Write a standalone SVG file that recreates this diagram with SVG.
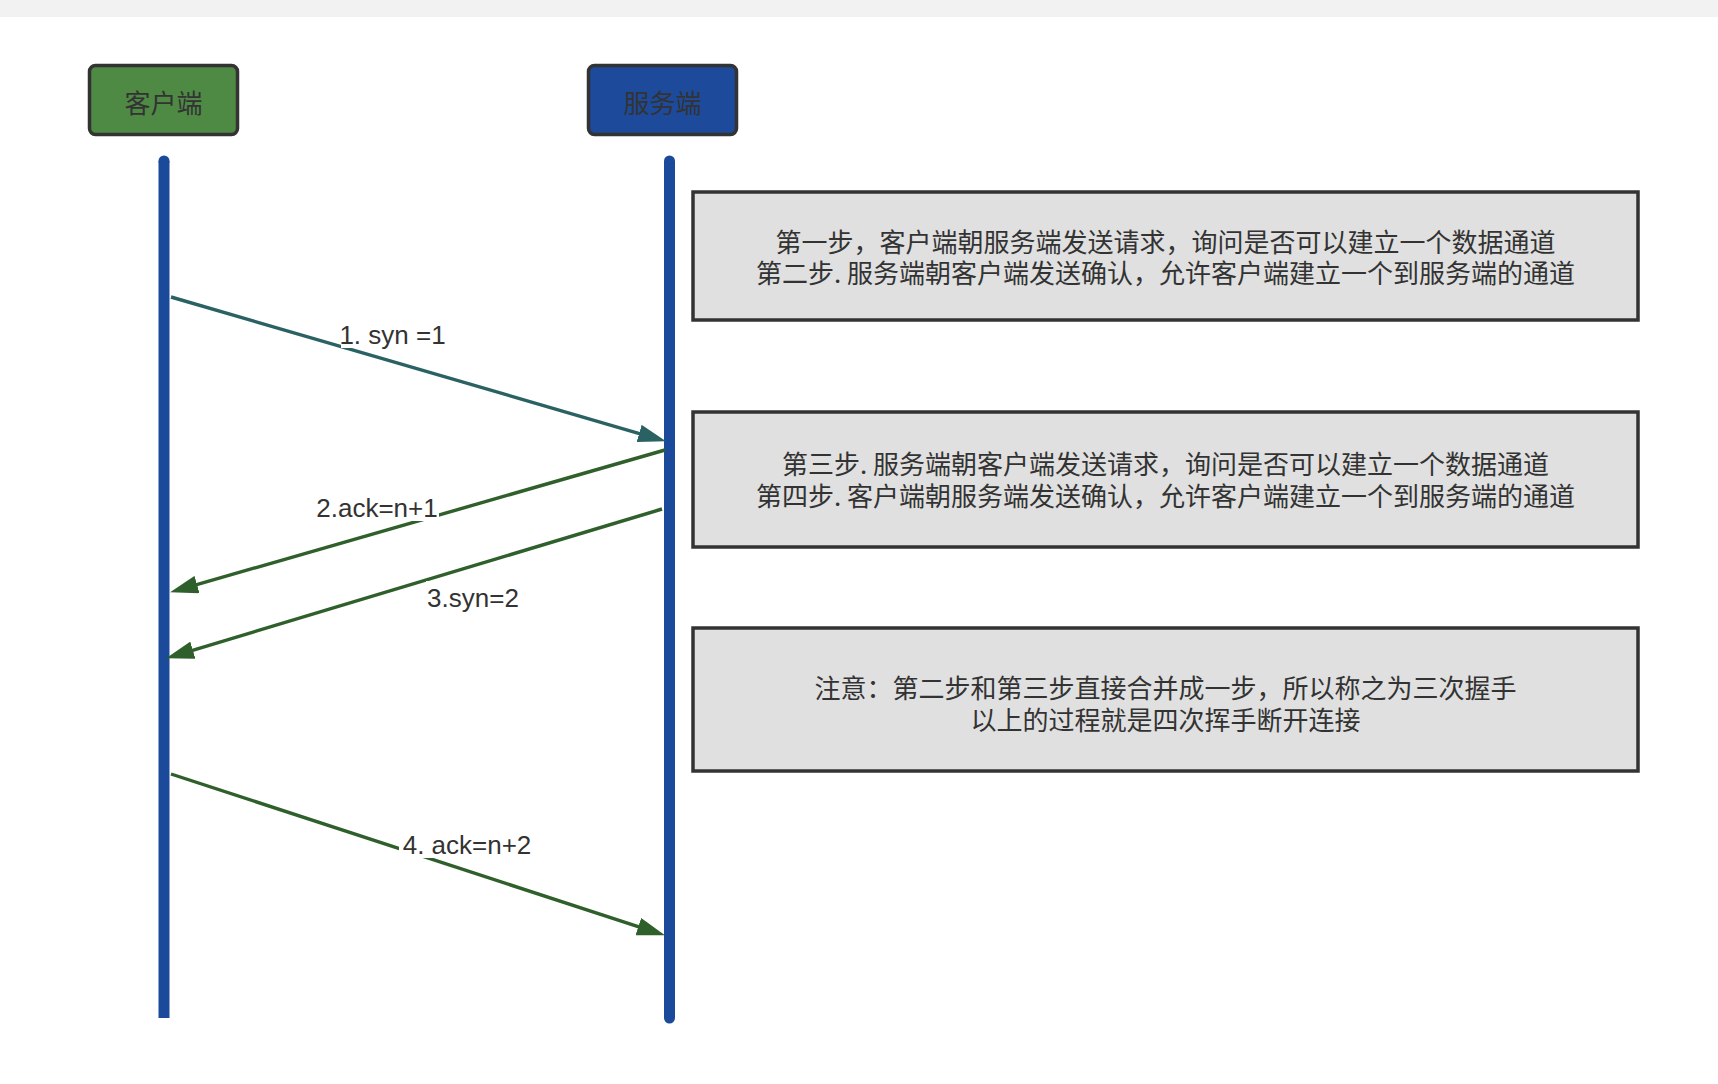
<svg xmlns="http://www.w3.org/2000/svg" width="1718" height="1084" viewBox="0 0 1718 1084">
<style>
.cjk{font-family:"Noto Sans CJK SC","Liberation Sans",sans-serif;font-size:26px;fill:#333;text-anchor:middle;dominant-baseline:central}
.lbl{font-family:"Liberation Sans","Noto Sans CJK SC",sans-serif;font-size:26px;fill:#333;text-anchor:middle}
.note{fill:#e0e0e0;stroke:#333;stroke-width:3.5}
.actor{stroke:#333;stroke-width:3.5}
.life{stroke:#1c4a9a;stroke-width:11;fill:none}
.c1{stroke:#2a6263;stroke-width:3.4;fill:none}
.c2{stroke:#2f5f2a;stroke-width:3.4;fill:none}
.bg{fill:#fff}
</style>
<defs>
<marker id="ah1" markerUnits="userSpaceOnUse" markerWidth="28" markerHeight="18" viewBox="0 0 28 18" refX="3" refY="9" orient="auto"><path d="M0,0 L28,9 L0,18 z" fill="#2a6263"/></marker>
<marker id="ah2" markerUnits="userSpaceOnUse" markerWidth="28" markerHeight="18" viewBox="0 0 28 18" refX="3" refY="9" orient="auto"><path d="M0,0 L28,9 L0,18 z" fill="#2f5f2a"/></marker>
</defs>
<rect x="0" y="0" width="1718" height="1084" fill="#fff"/>
<rect x="0" y="0" width="1718" height="17" fill="#f2f2f2"/>

<g id="client">
<rect class="actor" x="89.5" y="65.5" width="148" height="69" rx="6" fill="#4f8a45"/>
<text class="cjk" x="163.5" y="101">客户端</text>
</g>
<g id="server">
<rect class="actor" x="588.5" y="65.5" width="148" height="69" rx="6" fill="#1d4a9a"/>
<text class="cjk" x="662.5" y="101">服务端</text>
</g>
<g id="client-lifeline">
<path class="life" d="M164,161 V1018" stroke-linecap="butt"/>
<circle cx="164" cy="161" r="5.5" fill="#1c4a9a"/>
</g>
<g id="server-lifeline">
<path class="life" d="M669.5,161 V1018" stroke-linecap="round"/>
</g>

<g id="note1">
<rect class="note" x="693" y="192" width="945" height="128"/>
<text class="cjk" x="1165.5" y="240">第一步，客户端朝服务端发送请求，询问是否可以建立一个数据通道</text>
<text class="cjk" x="1165.5" y="271.5">第二步. 服务端朝客户端发送确认，允许客户端建立一个到服务端的通道</text>
</g>
<g id="note2">
<rect class="note" x="693" y="412" width="945" height="135"/>
<text class="cjk" x="1165.5" y="462.5">第三步. 服务端朝客户端发送请求，询问是否可以建立一个数据通道</text>
<text class="cjk" x="1165.5" y="494">第四步. 客户端朝服务端发送确认，允许客户端建立一个到服务端的通道</text>
</g>
<g id="note3">
<rect class="note" x="693" y="628" width="945" height="143"/>
<text class="cjk" x="1165.5" y="686">注意：第二步和第三步直接合并成一步，所以称之为三次握手</text>
<text class="cjk" x="1165.5" y="718.5">以上的过程就是四次挥手断开连接</text>
</g>

<g id="connectors">
<path class="c1" d="M171,297 L642,434.3" marker-end="url(#ah1)"/>
<path class="c2" d="M665,450 L194.1,585.4" marker-end="url(#ah2)"/>
<path class="c2" d="M662,509 L190,651.1" marker-end="url(#ah2)"/>
<path class="c2" d="M171,774 L641.2,927.6" marker-end="url(#ah2)"/>
<rect class="bg" x="341" y="318" width="104" height="30"/>
<text class="lbl" x="392.5" y="344">1. syn =1</text>
<rect class="bg" x="316" y="491" width="123" height="30"/>
<text class="lbl" x="377" y="517">2.ack=n+1</text>
<rect class="bg" x="426" y="581" width="94" height="30"/>
<text class="lbl" x="473" y="607">3.syn=2</text>
<rect class="bg" x="399" y="828" width="136" height="30"/>
<text class="lbl" x="467" y="854">4. ack=n+2</text>
</g>
</svg>
